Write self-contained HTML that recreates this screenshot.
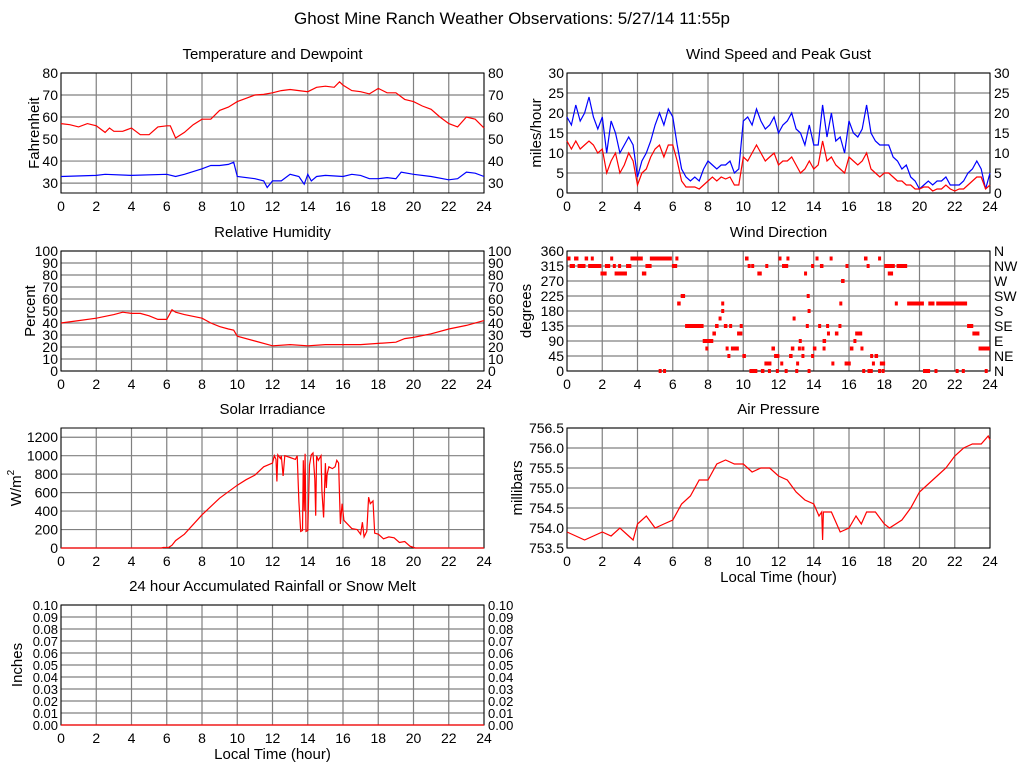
<!DOCTYPE html>
<html><head><meta charset="utf-8"><style>
html,body{margin:0;padding:0;background:#fff;}
svg{display:block;font-family:"Liberation Sans",Arial,sans-serif;}
</style></head><body>
<svg id="chart" width="1024" height="768" viewBox="0 0 1024 768">
<text x="512" y="24" font-size="17" text-anchor="middle">Ghost Mine Ranch Weather Observations: 5/27/14 11:55p</text>
</svg>
<script>
// ---- data ----
const tempT = [0,0.5,1,1.5,2,2.5,2.75,3,3.5,4,4.5,5,5.5,6,6.2,6.5,7,7.5,8,8.5,9,9.5,10,10.5,11,11.5,12,12.5,13,13.5,14,14.5,15,15.5,15.8,16,16.5,17,17.5,18,18.5,19,19.5,20,20.5,21,21.5,22,22.5,23,23.5,24];
const tempV = [57,56.5,55.5,57,56,53,55,53.5,53.5,55,52,52,55.5,56,56,50.5,53,56.5,59,59,63,64.5,67,68.5,70,70.3,71,72,72.5,72,71.5,73.5,74,73.5,76,74.5,72,71.5,70.5,73,71,71,68,67,65,63.5,60,57,55.5,60,59,55];
const dewT = [0,2,2.5,4,6,6.5,7,8,8.5,9,9.5,9.8,10,11,11.5,11.7,12,12.5,13,13.5,13.8,14,14.2,14.5,15,16,16.5,17,17.5,18,18.5,19,19.3,20,21,22,22.5,23,23.5,24];
const dewV = [33,33.5,34,33.5,34,33,34,36.5,38,38,38.5,39.5,33,32,31,28,31,31,34,33,29.5,34,31,33,33.5,33,34,33.5,32,32,32.5,32,35,34,33,31.5,32,35,34.5,33];
const windT = Array.from({length:97},(_,i)=>i*0.25);
const gustV = [19,17,22,18,20,24,19,16,19,10,18,15,10,12,14,12,4,8,10,13,17,20,17,21,19,12,6,4,3,4,3,6,8,7,6,7,7,8,5,6,18,19,17,21,18,16,17,19,15,17,18,20,16,15,12,17,12,12,22,14,20,13,14,10,18,15,14,16,22,15,13,12,12,12,9,8,6,7,4,3,1,2,3,2,3,3,4,2,2,2,3,5,6,8,6,1,5];
const speedV = [13,11,13,11,12,13,12,10,11,5,8,10,5,7,10,8,2,5,6,9,11,12,9,12,12,8,3,1.5,1.5,1.5,1,2,3,4,3,4,3.5,4,2,2,9,8,10,12,10,8,9,10,7,8,8,9,7,5,6,8,6,7,13,8,9,7,6,5,9,8,7,8,10,6,5,4,5,5,4,3,3,2,2,1,1,1.5,1.5,0.5,1,1,2,1,0.5,1,1,2,3,4,4,1,2];
const humT = [0,1,2,3,3.5,4,4.5,5,5.5,6,6.3,6.5,7,8,8.5,9,9.5,9.8,10,11,12,13,14,15,16,17,18,19,19.5,20,21,22,23,24];
const humV = [40,42,44,47,49,48,48,46,43,43,51,49,47,44,40,37,35,34,29,25,21,22,21,22,22,22,23,24,27,28,31,35,38,42];
// wind direction observations: [degrees, startHour, endHour]
const dirObs = [
[337.5,0,0.2],[337.5,0.4,0.65],[337.5,1.0,1.2],[337.5,1.35,1.4],[337.5,2.45,2.6],[337.5,3.6,4.3],[337.5,4.7,5.95],[337.5,6.15,6.3],[337.5,10.1,10.3],[337.5,12.0,12.1],[337.5,12.45,12.6],[337.5,14.1,14.2],[337.5,14.9,15.0],[337.5,16.85,17.05],[337.5,17.65,17.8],
[315,0.15,0.45],[315,0.6,1.05],[315,1.2,1.95],[315,2.15,2.45],[315,2.6,2.75],[315,2.9,3.05],[315,3.35,3.65],[315,4.45,4.8],[315,5.95,6.25],[315,10.25,10.35],[315,10.45,10.55],[315,11.25,11.4],[315,12.2,12.55],[315,13.85,13.95],[315,14.35,14.55],[315,15.8,15.9],[315,17.0,17.15],[315,18.0,18.6],[315,18.7,19.3],
[292.5,1.9,2.25],[292.5,2.7,3.4],[292.5,4.25,4.5],[292.5,10.8,11.05],[292.5,13.45,13.55],[292.5,18.2,18.5],
[270,15.55,15.75],
[225,6.45,6.7],[225,13.6,13.75],
[202.5,6.25,6.45],[202.5,8.75,8.9],[202.5,15.45,15.55],[202.5,18.6,18.75],[202.5,19.3,20.25],[202.5,20.5,20.85],[202.5,20.95,22.7],
[180,8.75,8.8],[180,13.65,13.75],
[157.5,8.6,8.7],[157.5,12.8,12.95],
[135,6.7,7.75],[135,8.4,8.6],[135,8.9,9.1],[135,9.2,9.3],[135,9.8,9.85],[135,13.55,13.65],[135,14.25,14.35],[135,14.7,14.8],[135,15.4,15.5],[135,22.7,23.05],
[112.5,8.25,8.45],[112.5,9.65,9.95],[112.5,14.75,14.9],[112.5,15.2,15.4],[112.5,16.35,16.75],[112.5,23.0,23.4],
[90,7.7,8.3],[90,13.15,13.3],[90,14.5,14.7],[90,16.25,16.4],
[67.5,7.85,7.95],[67.5,9.0,9.15],[67.5,9.3,9.75],[67.5,11.6,11.8],[67.5,12.7,12.9],[67.5,13.1,13.2],[67.5,13.3,13.45],[67.5,13.95,14.15],[67.5,14.5,14.65],[67.5,16.05,16.25],[67.5,16.65,16.75],[67.5,23.35,24.0],
[45,9.1,9.25],[45,9.95,10.15],[45,11.75,12.05],[45,12.6,12.8],[45,13.3,13.4],[45,13.85,13.95],[45,17.2,17.3],[45,17.45,17.65],
[22.5,11.2,11.6],[22.5,12.1,12.2],[22.5,13.0,13.15],[22.5,15.0,15.1],[22.5,15.75,15.85],[22.5,15.9,16.1],[22.5,17.3,17.4],[22.5,17.75,18.05],
[0,5.2,5.3],[0,5.45,5.55],[0,10.35,10.8],[0,11.0,11.2],[0,11.4,11.55],[0,11.85,11.95],[0,12.35,12.45],[0,12.95,13.1],[0,13.65,13.8],[0,16.75,16.85],[0,17.05,17.35],[0,17.65,17.75],[0,17.85,18.0],[0,20.2,20.6],[0,20.85,21.0],[0,22.05,22.2],[0,22.4,22.5],[0,23.7,23.85]
];
const solarT = [0,5.7,5.8,6.1,6.3,6.5,7,8,9,10,10.5,11,11.5,12,12.1,12.2,12.25,12.3,12.45,12.5,12.6,12.7,13,13.3,13.4,13.5,13.6,13.7,13.75,13.8,13.85,13.9,14.0,14.1,14.2,14.3,14.4,14.45,14.5,14.6,14.75,14.8,14.9,15.0,15.05,15.1,15.2,15.4,15.55,15.65,15.75,15.8,15.85,15.95,16.05,16.5,16.8,17.0,17.1,17.2,17.35,17.45,17.55,17.7,17.8,18,18.3,18.6,18.9,19.2,19.5,19.8,20.1,24];
const solarV = [0,0,5,5,30,80,150,360,540,680,740,790,880,920,1000,960,720,1010,970,1000,780,1000,980,960,1000,500,180,190,950,400,1020,180,190,900,1010,1030,750,350,1000,950,1000,620,330,920,650,800,880,860,880,950,920,580,260,480,300,210,200,150,280,120,180,550,480,510,160,150,100,120,110,60,70,20,0,0];
const presT = [0,0.5,1,1.5,2,2.5,3,3.5,3.75,4,4.5,5,5.5,6,6.5,7,7.5,8,8.5,9,9.5,10,10.5,11,11.5,12,12.5,13,13.5,14,14.3,14.45,14.5,14.55,15,15.5,16,16.4,16.7,17,17.5,18,18.3,19,19.5,20,20.5,21,21.5,22,22.5,23,23.5,23.9,24];
const presV = [753.9,753.8,753.7,753.8,753.9,753.8,754.0,753.8,753.7,754.1,754.3,754.0,754.1,754.2,754.6,754.8,755.2,755.2,755.6,755.7,755.6,755.6,755.4,755.5,755.5,755.3,755.2,754.9,754.7,754.6,754.3,754.4,753.7,754.4,754.4,753.9,754.0,754.3,754.1,754.4,754.4,754.1,754.0,754.2,754.5,754.9,755.1,755.3,755.5,755.8,756.0,756.1,756.1,756.3,756.2];
const rainT = [0,24];
const rainV = [0,0];
const xTicks = [0,2,4,6,8,10,12,14,16,18,20,22,24];

// ---- drawing ----
const NS = 'http://www.w3.org/2000/svg';
const svg = document.getElementById('chart');
function el(tag, attrs, parent){
  const e = document.createElementNS(NS, tag);
  for (const k in attrs) e.setAttribute(k, attrs[k]);
  (parent||svg).appendChild(e);
  return e;
}
function panel(p){
  const g = el('g', {});
  
  
  const sx = v => p.x0 + (v/24)*(p.x1-p.x0);
  const sy = v => p.y1 - (v-p.ymin)/(p.ymax-p.ymin)*(p.y1-p.y0);
  p.sx = sx; p.sy = sy;
  const t = el('text', {x:(p.x0+p.x1)/2, y:p.y0-14, 'font-size':15, 'text-anchor':'middle'}, g);
  t.textContent = p.title;
  
  
  // grid
  xTicks.forEach(h => {
    const l = el('line', {x1:sx(h), x2:sx(h), y1:p.y0, y2:p.y1, stroke:'#808080', 'stroke-width':1.2}, g);
    
    
    const tl = el('text', {x:sx(h), y:p.y1+18, 'font-size':14, 'text-anchor':'middle'}, g);
    tl.textContent = h;
    
    
  });
  p.yTicks.forEach((v,i) => {
    const l = el('line', {x1:p.x0, x2:p.x1, y1:sy(v), y2:sy(v), stroke:'#808080', 'stroke-width':1.2}, g);
    
    
    const tl = el('text', {x:p.x0-3, y:sy(v)+5, 'font-size':p.tickSize||14, 'text-anchor':'end'}, g);
    tl.textContent = p.fmt ? p.fmt(v) : v;
    
    
    if (p.right){
      const tr = el('text', {x:p.x1+4, y:sy(v)+5, 'font-size':p.tickSize||14, 'text-anchor':'start'}, g);
      tr.textContent = p.right === true ? (p.fmt ? p.fmt(v) : v) : p.right[i];
      
      
    }
  });
  const b = el('rect', {x:p.x0, y:p.y0, width:p.x1-p.x0, height:p.y1-p.y0, fill:'none', stroke:'#000', 'stroke-width':1}, g);
  
  
  const yl = el('text', {x:0, y:0, 'font-size':15, 'text-anchor':'middle', transform:`translate(${p.ylx},${(p.y0+p.y1)/2}) rotate(-90)`}, g);
  yl.textContent = p.ylabel;
  if (p.sup){ const s = el('tspan', {dy:-7, 'font-size':10}, yl); s.textContent = p.sup; }
  
  
  if (p.xlabel){
    const xl = el('text', {x:(p.x0+p.x1)/2, y:p.y1+34, 'font-size':15, 'text-anchor':'middle'}, g);
    xl.textContent = p.xlabel;
    
    
  }
  p.g = g;
  return p;
}
function line(p, ts, vs, color, name){
  const d = ts.map((t,i)=> (i?'L':'M') + p.sx(t).toFixed(1) + ',' + p.sy(vs[i]).toFixed(1)).join('');
  const path = el('path', {d, fill:'none', stroke:color, 'stroke-width':1.2}, p.g);
  
  
}

const pT = panel({name:'temperature-panel', title:'Temperature and Dewpoint', x0:61, x1:484, y0:73, y1:193, ymin:25.5, ymax:80, yTicks:[30,40,50,60,70,80], right:true, ylabel:'Fahrenheit', ylx:39});
line(pT, tempT, tempV, '#ff0000', 'temperature-line');
line(pT, dewT, dewV, '#0000ff', 'dewpoint-line');

const pW = panel({name:'wind-speed-panel', title:'Wind Speed and Peak Gust', x0:567, x1:990, y0:73, y1:193, ymin:0, ymax:30, yTicks:[0,5,10,15,20,25,30], right:true, ylabel:'miles/hour', ylx:541});
line(pW, windT, gustV, '#0000ff', 'peak-gust-line');
line(pW, windT, speedV, '#ff0000', 'wind-speed-line');

const pH = panel({name:'humidity-panel', title:'Relative Humidity', x0:61, x1:484, y0:251, y1:371, ymin:0, ymax:100, yTicks:[0,10,20,30,40,50,60,70,80,90,100], right:true, ylabel:'Percent', ylx:35});
line(pH, humT, humV, '#ff0000', 'humidity-line');

const pD = panel({name:'wind-direction-panel', title:'Wind Direction', x0:567, x1:990, y0:251, y1:371, ymin:0, ymax:360, yTicks:[0,45,90,135,180,225,270,315,360], right:['N','NE','E','SE','S','SW','W','NW','N'], ylabel:'degrees', ylx:531});
dirObs.forEach(o => {
  const x = pD.sx(o[1]), w = Math.max(3, pD.sx(o[2]) - x);
  const r = el('rect', {x, y:pD.sy(o[0])-2, width:w, height:4, fill:'#ff0000'}, pD.g);
  
  
});

const pS = panel({name:'solar-panel', title:'Solar Irradiance', x0:61, x1:484, y0:428, y1:548, ymin:0, ymax:1300, yTicks:[0,200,400,600,800,1000,1200], right:false, ylabel:'W/m', sup:'2', ylx:21});
line(pS, solarT, solarV, '#ff0000', 'solar-line');

const pP = panel({name:'pressure-panel', title:'Air Pressure', x0:567, x1:990, y0:428, y1:548, ymin:753.5, ymax:756.5, yTicks:[753.5,754,754.5,755,755.5,756,756.5], fmt:v=>v.toFixed(1), right:false, ylabel:'millibars', ylx:522, xlabel:'Local Time (hour)'});
line(pP, presT, presV, '#ff0000', 'pressure-line');

const pR = panel({name:'rainfall-panel', title:'24 hour Accumulated Rainfall or Snow Melt', x0:61, x1:484, y0:605, y1:725, ymin:0, ymax:0.1, yTicks:[0,0.01,0.02,0.03,0.04,0.05,0.06,0.07,0.08,0.09,0.1], fmt:v=>v.toFixed(2), right:true, tickSize:13, ylabel:'Inches', ylx:22, xlabel:'Local Time (hour)'});
line(pR, rainT, rainV, '#ff0000', 'rainfall-line');
</script>
</body></html>
